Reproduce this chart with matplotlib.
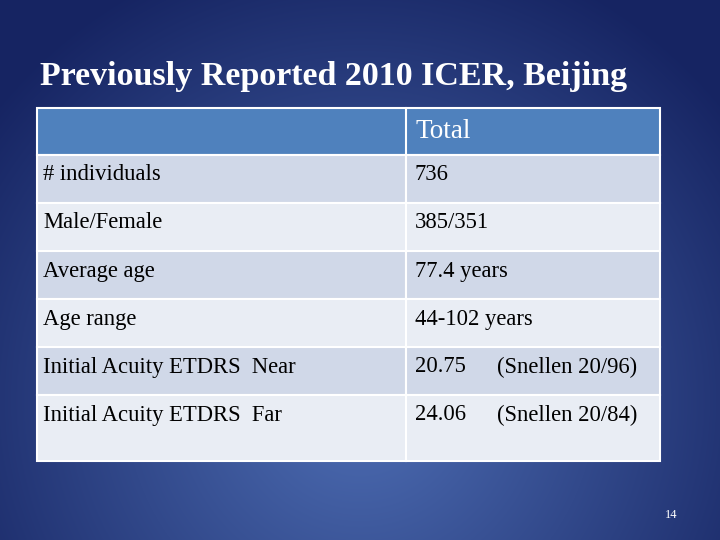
import numpy as np
import matplotlib
matplotlib.use("Agg")
import matplotlib.pyplot as plt
from matplotlib.patches import Rectangle

title = "Previously Reported 2010 ICER, Beijing"
header = ["", "Total"]
row_labels = ["# individuals", "Male/Female", "Average age", "Age range",
              "Initial Acuity ETDRS  Near", "Initial Acuity ETDRS  Far"]
row_values = ["736", "385/351", "77.4 years", "44-102 years", "20.75", "24.06"]
row_notes = ["", "", "", "", "(Snellen 20/96)", "(Snellen 20/84)"]
page = "14"

fig = plt.figure(figsize=(7.2, 5.4), dpi=100)
ax = fig.add_axes([0, 0, 1, 1])
ax.set_xlim(0, 720); ax.set_ylim(540, 0); ax.axis("off")

# radial gradient background
yy, xx = np.mgrid[0:540, 0:720]
r = np.sqrt(((xx - 360) / 470) ** 2 + ((yy - 400) / 470) ** 2)
r = np.clip(r, 0, 1)
c0 = np.array([0x4e, 0x6e, 0xb4]) / 255
c1 = np.array([0x16, 0x24, 0x62]) / 255
img = c0[None, None, :] * (1 - r[..., None]) + c1[None, None, :] * r[..., None]
ax.imshow(img, extent=[0, 720, 540, 0], aspect="auto", zorder=0)

font = "Liberation Serif"
ax.text(40, 76, title, fontsize=24.5, fontweight="bold", color="white",
        family=font, va="center", ha="left")

x0, xs, x1 = 37, 406, 660
ytop, hh = 108, 47
row_h = [48, 48, 48, 48, 48, 66]
ax.add_patch(Rectangle((x0, ytop), x1 - x0, hh, fc="#4f81bd", ec="white", lw=1.5, zorder=2))
ax.plot([xs, xs], [ytop, ytop + hh], color="white", lw=1.5, zorder=3)
ax.text(xs + 9, ytop + hh / 2, header[1], fontsize=19.5, color="white",
        family=font, va="center", zorder=4)
y = ytop + hh
for i, (lab, val, note) in enumerate(zip(row_labels, row_values, row_notes)):
    h = row_h[i]
    fc = "#d0d8e8" if i % 2 == 0 else "#e9edf4"
    for (a, b) in [(x0, xs), (xs, x1)]:
        ax.add_patch(Rectangle((a, y), b - a, h, fc=fc, ec="white", lw=1.5, zorder=2))
    ty = y + 20
    ax.text(43, ty, lab, fontsize=16.3, color="black", family=font, va="center", zorder=4)
    ax.text(415, ty, val, fontsize=16.3, color="black", family=font, va="center", zorder=4)
    if note:
        ax.text(497, ty, note, fontsize=16.3, color="black", family=font, va="center", zorder=4)
    y += h

ax.text(677, 515, page, fontsize=9, color="white", family=font, ha="right", va="center")
fig.savefig("out.png", dpi=100)
